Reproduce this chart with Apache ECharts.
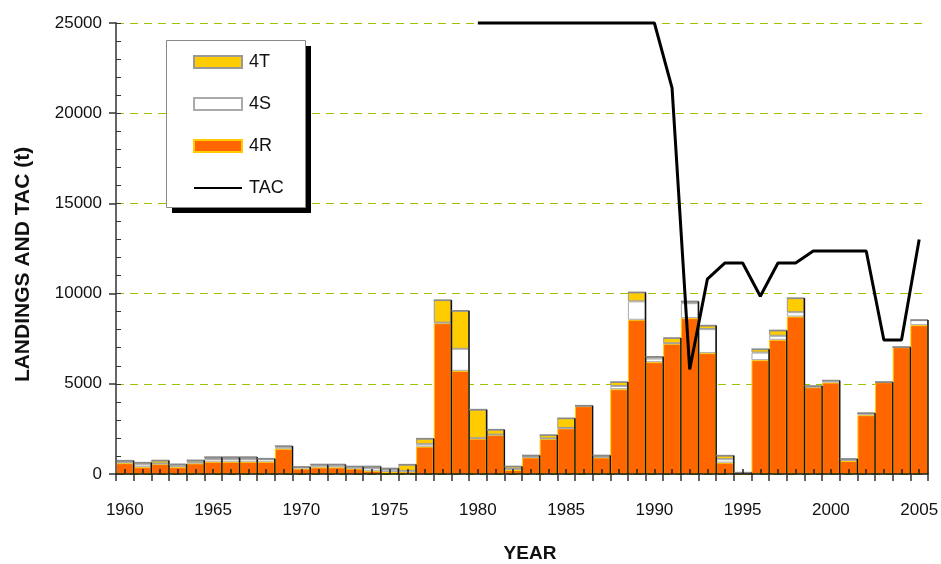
<!DOCTYPE html>
<html>
<head>
<meta charset="utf-8">
<title>Landings and TAC</title>
<script src="https://cdn.jsdelivr.net/npm/echarts@6/dist/echarts.min.js"></script>
<style>
  html, body { margin: 0; padding: 0; background: #fff; }
  #chart { width: 941px; height: 564px; }
</style>
</head>
<body>
<div id="chart"></div>
<script>
// Years 1960-2005
const years = [];
for (let y = 1960; y <= 2005; y++) years.push(String(y));

// Landings by division (t)
const land4R = [600, 380, 550, 380, 590, 680, 680, 680, 680, 1400,
                300, 370, 370, 300, 180, 110, 130, 1520, 8360, 5720,
                1960, 2160, 220, 920, 1940, 2530, 3760, 920, 4700, 8550,
                6200, 7220, 8640, 6700, 630, 0, 6310, 7440, 8730, 4810,
                5070, 720, 3260, 5090, 7030, 8250];
const land4S = [60, 150, 30, 80, 60, 150, 150, 150, 150, 100,
                80, 100, 100, 60, 150, 120, 40, 130, 30, 1220,
                20, 20, 60, 20, 30, 20, 0, 20, 180, 1020,
                200, 20, 830, 1330, 190, 80, 420, 220, 240, 20,
                110, 110, 110, 0, 0, 280];
const land4T = [80, 100, 170, 80, 110, 110, 110, 110, 20, 50,
                10, 60, 60, 60, 90, 80, 350, 310, 1250, 2110,
                1590, 280, 140, 90, 190, 540, 30, 90, 220, 500,
                100, 300, 100, 200, 200, 0, 190, 300, 780, 50,
                0, 0, 0, 0, 0, 0];

// Total allowable catch (t), set from 1980
const tac = [null, null, null, null, null, null, null, null, null, null,
             null, null, null, null, null, null, null, null, null, null,
             25000, 25000, 25000, 25000, 25000, 25000, 25000, 25000, 25000, 25000,
             25000, 21400, 5800, 10800, 11700, 11700, 9850, 11700, 11700, 12360,
             12360, 12360, 12360, 7430, 7430, 13000];

const yTicks = [0, 5000, 10000, 15000, 20000, 25000];

const totals = years.map((_, i) => [i, land4R[i] + land4S[i] + land4T[i]]);

const FONT = '"Liberation Sans", Arial, sans-serif';

const chart = echarts.init(document.getElementById('chart'), null, { renderer: 'canvas' });

chart.setOption({
  animation: false,
  backgroundColor: '#ffffff',
  textStyle: { fontFamily: FONT },
  grid: { left: 116, right: 13, top: 23, bottom: 90, containLabel: false, outerBoundsMode: 'none' },
  graphic: [
    // legend frame with drop shadow
    { type: 'rect', left: 172, top: 46, z: 50, shape: { width: 139, height: 167 }, style: { fill: '#000' } },
    { type: 'rect', left: 166, top: 40, z: 51, shape: { width: 139, height: 167 }, style: { fill: '#fff', stroke: '#888', lineWidth: 1 } }
  ],
  legend: {
    orient: 'vertical',
    left: 193,
    top: 53,
    padding: 0,
    itemWidth: 48,
    itemHeight: 12,
    itemGap: 24,
    z: 60,
    textStyle: { fontFamily: FONT, fontSize: 18, lineHeight: 17, color: '#111', padding: [0, 0, 0, 2] },
    data: [
      { name: '4T', icon: 'rect' },
      { name: '4S', icon: 'rect' },
      { name: '4R', icon: 'rect' },
      { name: 'TAC', itemStyle: { opacity: 0 } }
    ]
  },
  xAxis: [
    {
      type: 'category',
      data: years,
      boundaryGap: true,
      name: 'YEAR',
      nameLocation: 'middle',
      nameGap: 70,
      nameTextStyle: { fontFamily: FONT, fontSize: 19, fontWeight: 'bold', color: '#111', padding: [0, 0, 0, 16] },
      axisLine: { show: true, lineStyle: { color: '#111', width: 1.5 } },
      axisTick: { show: true, interval: 0, length: 7, lineStyle: { color: '#333', width: 1.5 } },
      axisLabel: {
        interval: (idx) => idx % 5 === 0,
        margin: 28,
        fontFamily: FONT,
        fontSize: 17,
        color: '#111'
      },
      splitLine: { show: false },
      z: 10
    },
    {
      type: 'category',
      data: years,
      boundaryGap: true,
      position: 'bottom',
      axisLine: { show: false },
      axisTick: { show: true, inside: true, alignWithLabel: true, interval: 0, length: 5, lineStyle: { color: '#222', width: 1.5 } },
      axisLabel: { show: false },
      splitLine: { show: false },
      z: 10
    }
  ],
  yAxis: [
    {
      type: 'value',
      min: 0,
      max: 25000,
      interval: 5000,
      name: 'LANDINGS AND TAC (t)',
      nameLocation: 'middle',
      nameGap: 82,
      nameRotate: 90,
      nameTextStyle: { fontFamily: FONT, fontSize: 21, fontWeight: 'bold', color: '#111', padding: [0, 32, 0, 0] },
      axisLine: { show: true, lineStyle: { color: '#666', width: 2 } },
      axisTick: { show: true, length: 7, lineStyle: { color: '#333', width: 1.5 } },
      axisLabel: {
        margin: 14,
        fontFamily: FONT,
        fontSize: 17,
        color: '#111',
        formatter: (v) => (yTicks.indexOf(v) >= 0 ? String(v) : '')
      },
      splitLine: { show: false },
      z: 10
    },
    {
      type: 'value',
      min: 0,
      max: 25000,
      interval: 1000,
      position: 'left',
      axisLine: { show: false },
      axisTick: { show: true, inside: true, length: 5, lineStyle: { color: '#333', width: 1 } },
      axisLabel: { show: false },
      splitLine: { show: false },
      z: 10
    },
    {
      // dashed gridlines, drawn beneath the bars and the TAC line
      type: 'value',
      min: 0,
      max: 25000,
      interval: 5000,
      position: 'left',
      axisLine: { show: false },
      axisTick: { show: false },
      axisLabel: { show: false },
      splitLine: { show: true, lineStyle: { color: '#99c400', width: 1.2, type: [8, 6] } },
      z: 0
    }
  ],
  series: [
    {
      name: '4R',
      type: 'bar',
      stack: 'landings',
      data: land4R,
      barCategoryGap: 0,
      itemStyle: { color: '#ff6600', borderColor: '#ffcc00', borderWidth: 1 },
      z: 2
    },
    {
      name: '4S',
      type: 'bar',
      stack: 'landings',
      data: land4S,
      itemStyle: { color: '#ffffff', borderColor: '#aaaaaa', borderWidth: 1 },
      z: 2
    },
    {
      name: '4T',
      type: 'bar',
      stack: 'landings',
      data: land4T,
      itemStyle: { color: '#ffcc00', borderColor: '#999999', borderWidth: 1 },
      z: 2
    },
    {
      // stack outline: grey top edge, dark right edge
      name: 'outline',
      type: 'custom',
      data: totals,
      encode: { x: 0, y: 1 },
      silent: true,
      z: 3,
      renderItem: (params, api) => {
        const idx = api.value(0);
        const top = api.coord([idx, api.value(1)]);
        const base = api.coord([idx, 0]);
        const w = api.size([1, 0])[0];
        const x0 = top[0] - w / 2;
        const x1 = top[0] + w / 2;
        return {
          type: 'group',
          children: [
            { type: 'line', shape: { x1: x0, y1: top[1], x2: x1, y2: top[1] }, style: { stroke: '#888', lineWidth: 1.5 } },
            { type: 'line', shape: { x1: x1, y1: top[1], x2: x1, y2: base[1] }, style: { stroke: '#111', lineWidth: 1.5 } }
          ]
        };
      }
    },
    {
      name: 'TAC',
      type: 'line',
      data: tac,
      symbol: 'none',
      clip: false,
      connectNulls: false,
      itemStyle: { color: '#000' },
      lineStyle: { color: '#000', width: 3 },
      z: 5
    }
  ]
});
</script>
</body>
</html>
